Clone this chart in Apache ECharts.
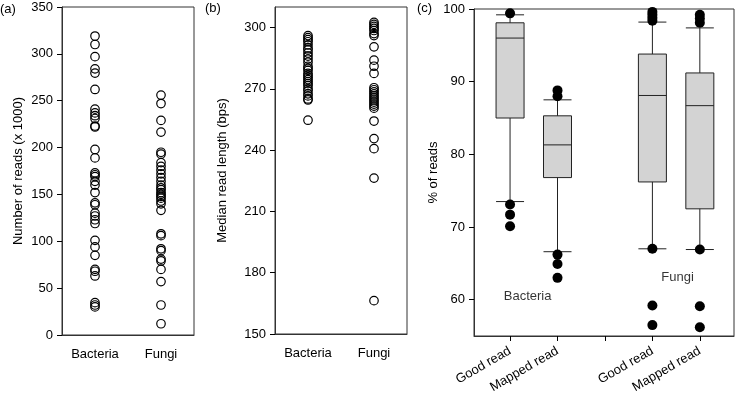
<!DOCTYPE html>
<html>
<head>
<meta charset="utf-8">
<script src="https://cdn.jsdelivr.net/npm/echarts@6/dist/echarts.min.js"></script>
<style>
  html, body { margin: 0; padding: 0; background: #fff; }
  #main { width: 737px; height: 400px; }
</style>
</head>
<body>
<div id="main"></div>
<script>
// panel (a) / (b) groups
const groups = ['Bacteria', 'Fungi']

// (a) number of reads (x 1000)
const bacteriaReads = [319, 310, 297, 284, 279.5, 262, 241, 237, 234, 231, 223, 222, 198, 189,
  173, 171, 169, 164, 160, 152, 141, 139, 130, 127, 123, 119, 101, 94, 85, 70, 68, 63, 34.5, 32, 30]
const fungiReads = [256, 247, 229, 216.5, 195, 193, 184, 180, 176, 172, 168, 164, 160, 157, 155,
  152, 150, 148, 146, 143, 140, 133, 108, 106, 92, 90, 81, 79, 70, 57, 32, 12]

// (b) median read length (bps)
const bacteriaLength = [296, 295, 294, 293, 291.5, 290, 289, 287.5, 286, 284.5, 283, 281, 280, 279,
  277.5, 276.5, 275.5, 274.5, 273.5, 272.5, 271.5, 270, 269, 267.5, 266.5, 265, 264.5, 254.6]
const fungiLength = [302.5, 301.5, 300.5, 299.5, 298.5, 297, 296, 290.5, 284, 281, 277.5, 270.5,
  269.5, 268.5, 267.5, 266.5, 265.5, 264.5, 263.5, 262.5, 261.5, 260.5, 254.2, 245.6, 240.7, 226.3, 166.3]

// (c) % of reads, box positions 1..5 (3 is the gap)
const boxCats = ['Good read', 'Mapped read', '', 'Good read', 'Mapped read']
// [position, lower whisker, Q1, median, Q3, upper whisker]
const boxStats = [
  [1, 73.5, 85.0, 96.0, 98.1, 99.2],
  [2, 66.6, 76.8, 81.3, 85.3, 87.5],
  [4, 67.0, 76.2, 88.1, 93.8, 98.2],
  [5, 66.9, 72.5, 86.7, 91.2, 97.4]
]
const outliers = [
  [1, 99.4], [1, 73.1], [1, 71.7], [1, 70.1],
  [2, 88.8], [2, 88.0], [2, 66.2], [2, 64.9], [2, 63.0],
  [4, 99.6], [4, 99.2], [4, 98.8], [4, 98.4], [4, 67.0], [4, 59.2], [4, 56.5],
  [5, 99.2], [5, 98.7], [5, 98.1], [5, 66.9], [5, 59.1], [5, 56.2]
]
const groupNotes = [
  { name: 'Bacteria', value: [1.37, 60.4] },
  { name: 'Fungi', value: [4.53, 63.1] }
]

const font = '"Liberation Sans", Arial, sans-serif'
const frame = '#333'

function yAxisBase(grid, name, gap) {
  return {
    gridIndex: grid,
    type: 'value',
    name: name,
    nameLocation: 'middle',
    nameGap: gap,
    nameMoveOverlap: false,
    nameTextStyle: { color: '#000', fontSize: 13, fontFamily: font },
    axisLine: { show: true, lineStyle: { color: frame, width: 1 } },
    axisTick: { show: true, length: 5, lineStyle: { color: '#000' } },
    axisLabel: { color: '#000', fontSize: 13, fontFamily: font, margin: 9 },
    splitLine: { show: false }
  }
}

function catAxis(grid) {
  return {
    gridIndex: grid,
    type: 'category',
    data: groups,
    axisLine: { lineStyle: { color: frame } },
    axisTick: { alignWithLabel: true, length: 5, lineStyle: { color: '#000' } },
    axisLabel: { color: '#000', fontSize: 13, fontFamily: font, margin: 13 },
    splitLine: { show: false }
  }
}

const hollow = {
  type: 'scatter',
  symbol: 'circle',
  symbolSize: 8.5,
  itemStyle: { color: 'rgba(0,0,0,0)', borderColor: '#000', borderWidth: 1.2, opacity: 1 },
  emphasis: { disabled: true }
}

const chart = echarts.init(document.getElementById('main'))
chart.setOption({
  animation: false,
  backgroundColor: '#fff',
  textStyle: { fontFamily: font },
  grid: [
    { left: 62, top: 7, width: 132, height: 328, show: true, borderColor: frame, borderWidth: 1, outerBoundsMode: 'none' },
    { left: 275, top: 7, width: 132, height: 327, show: true, borderColor: frame, borderWidth: 1, outerBoundsMode: 'none' },
    { left: 474, top: 9, width: 260, height: 327, show: true, borderColor: frame, borderWidth: 1, outerBoundsMode: 'none' }
  ],
  xAxis: [
    catAxis(0),
    catAxis(1),
    {
      gridIndex: 2,
      type: 'value',
      min: 0.24,
      max: 5.72,
      axisLine: { lineStyle: { color: frame } },
      axisTick: { length: 5, lineStyle: { color: '#000' }, customValues: [1, 2, 3, 4, 5] },
      axisLabel: {
        customValues: [1, 2, 4, 5],
        rotate: 30,
        margin: 14,
        color: '#000',
        fontSize: 13,
        fontFamily: font,
        formatter: v => boxCats[Math.round(v) - 1] || ''
      },
      splitLine: { show: false }
    }
  ],
  yAxis: [
    Object.assign(yAxisBase(0, 'Number of reads (x 1000)', 37), { min: 0, max: 350, interval: 50 }),
    Object.assign(yAxisBase(1, 'Median read length (bps)', 46), {
      min: 150, max: 310,
      axisTick: { show: true, length: 5, lineStyle: { color: '#000' }, customValues: [150, 180, 210, 240, 270, 300] },
      axisLabel: { color: '#000', fontSize: 13, fontFamily: font, margin: 9, customValues: [150, 180, 210, 240, 270, 300] }
    }),
    Object.assign(yAxisBase(2, '% of reads', 34), {
      min: 55, max: 100,
      axisTick: { show: true, length: 5, lineStyle: { color: '#000' }, customValues: [60, 70, 80, 90, 100] },
      axisLabel: { color: '#000', fontSize: 13, fontFamily: font, margin: 9, customValues: [60, 70, 80, 90, 100] }
    })
  ],
  graphic: [
    { type: 'text', left: 0, top: 3, style: { text: '(a)', fill: '#000', font: '13px ' + font } },
    { type: 'text', left: 205, top: 2, style: { text: '(b)', fill: '#000', font: '13px ' + font } },
    { type: 'text', left: 417, top: 2, style: { text: '(c)', fill: '#000', font: '13px ' + font } }
  ],
  series: [
    Object.assign({}, hollow, { xAxisIndex: 0, yAxisIndex: 0, data: bacteriaReads.map(v => ['Bacteria', v]) }),
    Object.assign({}, hollow, { xAxisIndex: 0, yAxisIndex: 0, data: fungiReads.map(v => ['Fungi', v]) }),
    Object.assign({}, hollow, { xAxisIndex: 1, yAxisIndex: 1, data: bacteriaLength.map(v => ['Bacteria', v]) }),
    Object.assign({}, hollow, { xAxisIndex: 1, yAxisIndex: 1, data: fungiLength.map(v => ['Fungi', v]) }),
    {
      type: 'boxplot',
      xAxisIndex: 2,
      yAxisIndex: 2,
      boxWidth: [28, 28],
      data: boxStats,
      itemStyle: { color: '#d3d3d3', borderColor: '#222', borderWidth: 1 },
      emphasis: { disabled: true }
    },
    {
      type: 'scatter',
      xAxisIndex: 2,
      yAxisIndex: 2,
      symbol: 'circle',
      symbolSize: 10,
      itemStyle: { color: '#000', opacity: 1 },
      data: outliers,
      z: 3,
      emphasis: { disabled: true }
    },
    {
      type: 'scatter',
      xAxisIndex: 2,
      yAxisIndex: 2,
      symbolSize: 0,
      data: groupNotes,
      label: {
        show: true,
        position: 'inside',
        formatter: p => p.name,
        color: '#000',
        fontSize: 13,
        fontFamily: font
      },
      emphasis: { disabled: true }
    }
  ]
})
</script>
</body>
</html>
